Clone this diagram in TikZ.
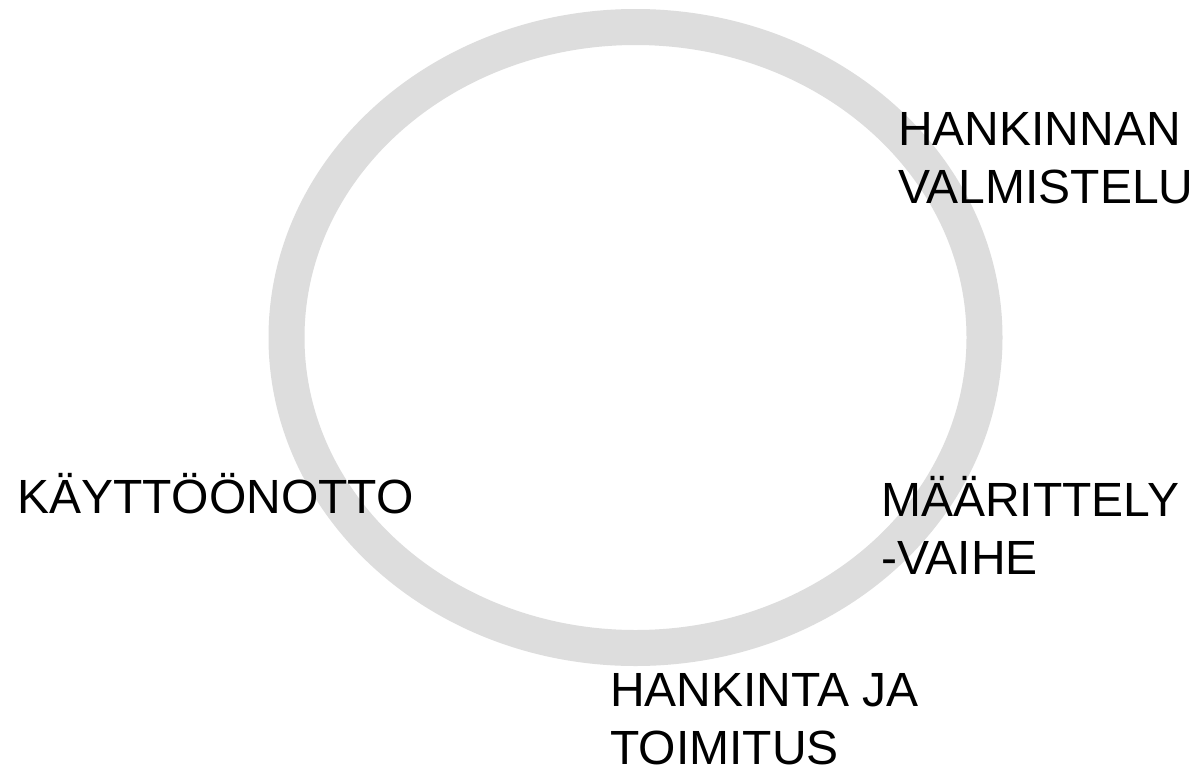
\documentclass[tikz,border=0pt]{standalone}
\usepackage{fontspec}
\setmainfont{Liberation Sans}
\usetikzlibrary{backgrounds}
\definecolor{renkaanharmaa}{RGB}{221,221,221}
\tikzset{
  kaari/.style = {draw=renkaanharmaa, line width=36pt},
  fase/.style = {anchor=base west, inner sep=0pt, align=left, text=black,
    font=\fontsize{48}{58}\selectfont},
  every picture/.style = {background rectangle/.style={fill=white},
    show background rectangle}
}

\begin{document}
\begin{tikzpicture}[x=1pt, y=-1pt]
  \useasboundingbox (0,0) rectangle (1194,769);
  \draw [kaari] (635.5,337.5) ellipse [x radius=349, y radius=310.5];
  % base anchor = baseline of the last line
  \node [fase] (valm) at (898,203) {HANKINNAN\\VALMISTELU};
  \node [fase] (kaytto) at (17,513) {KÄYTTÖÖNOTTO};
  \node [fase] (maar) at (881,574) {MÄÄRITTELY\\-VAIHE};
  \node [fase] (toim) at (610,764) {HANKINTA JA\\TOIMITUS};
\end{tikzpicture}
\end{document}
